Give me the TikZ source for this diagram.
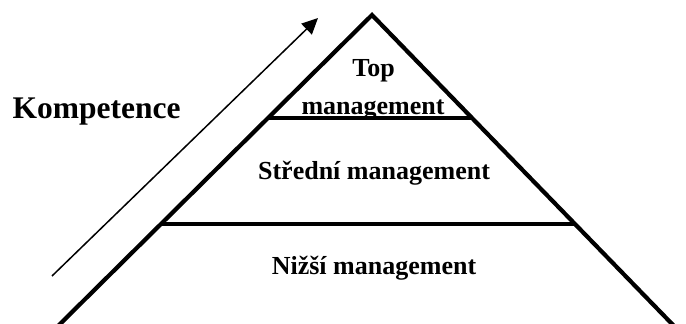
\documentclass[tikz,border=0pt]{standalone}
\usepackage{fontspec}
\setmainfont{Liberation Serif}
\usetikzlibrary{arrows.meta,calc}
\tikzset{
  edge/.style={line width=4.2pt, line join=miter, line cap=butt},
  level/.style={line width=4pt},
  levellabel/.style={anchor=base, inner sep=0pt, font=\bfseries\fontsize{26}{37.3}\selectfont, align=center},
  sidelabel/.style={anchor=base, inner sep=0pt, font=\bfseries\fontsize{31.5}{36}\selectfont},
  growth/.style={line width=1.5pt, -{Triangle[length=16pt,width=15pt]}}
}
\begin{document}
\begin{tikzpicture}[x=1pt,y=-1pt]
  \useasboundingbox (0,0) rectangle (686,324);
  % level labels (set first so the dividers sit on top of them)
  \node[levellabel] (top) at (373.5,76.7) {Top};
  \node[levellabel] (topm) at (373,114) {management};
  \node[levellabel] (mid) at (374,179) {Střední management};
  \node[levellabel] (low) at (374,274.3) {Nižší management};
  % pyramid outline
  \coordinate (apex) at (372,15);
  \coordinate (bl) at (58,326);
  \coordinate (br) at (674,326);
  \draw[edge] (bl) -- (apex) -- (br);
  % level dividers
  \coordinate (t1l) at ($(apex)!0.3312!(bl)$);
  \coordinate (t1r) at ($(apex)!0.3312!(br)$);
  \coordinate (t2l) at ($(apex)!0.6720!(bl)$);
  \coordinate (t2r) at ($(apex)!0.6720!(br)$);
  \draw[level] (t1l) -- (t1r);
  \draw[level] (t2l) -- (t2r);
  % competence arrow
  \node[sidelabel] (komp) at (96.5,118.3) {Kompetence};
  \coordinate (g0) at (52,276);
  \coordinate (g1) at (318,18);
  \draw[growth] (g0) -- (g1);
\end{tikzpicture}
\end{document}
